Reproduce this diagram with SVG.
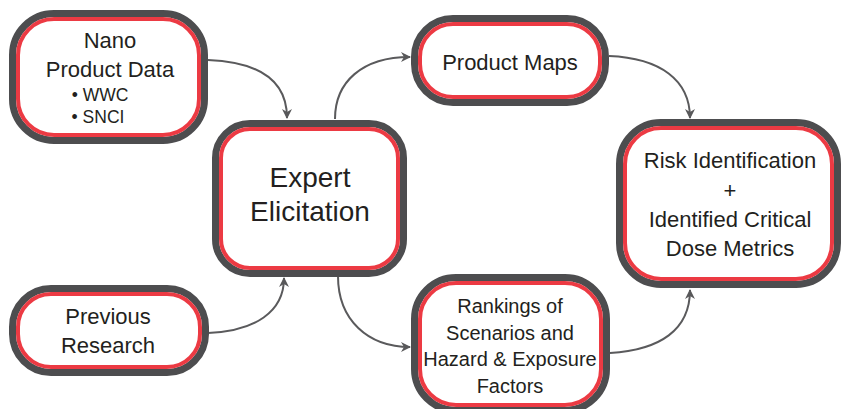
<svg xmlns="http://www.w3.org/2000/svg" width="843" height="409" viewBox="0 0 843 409">
<defs>
<marker id="arr" viewBox="0 0 10 10" refX="9" refY="5" markerWidth="10" markerHeight="10" markerUnits="userSpaceOnUse" orient="auto">
<path d="M0,0 L10,5 L0,10 L3,5 z" fill="#58585a"/>
</marker>
</defs>
<style>
.outer{fill:#fff;stroke:#4d4d4f;stroke-width:7}
.inner{fill:none;stroke:#ec3a43;stroke-width:4}
.t{font-family:"Liberation Sans",Arial,sans-serif;fill:#231f20;text-anchor:middle}
.conn path{fill:none;stroke:#5a5a5c;stroke-width:2;marker-end:url(#arr)}
</style>
<rect width="843" height="409" fill="#fff"/>
<g id="connectors" class="conn">
<path d="M208,60 C258,62 287,80 287,118"/>
<path d="M335,119 C335,82 362,57 410,57"/>
<path d="M609,56 C660,58 690,80 690,118"/>
<path d="M208,333 C255,331 284,312 284,278"/>
<path d="M338,276 C338,320 368,347 410,347"/>
<path d="M610,353 C660,350 690,330 690,290"/>
</g>
<g id="node-nano">
<rect class="outer" x="12.5" y="13.5" width="192" height="127" rx="41.5"/>
<rect class="inner" x="18" y="19" width="181" height="116" rx="36"/>
<text class="t" x="110" y="48" font-size="22">Nano</text>
<text class="t" x="110" y="77" font-size="22">Product Data</text>
<text class="t" x="100" y="101" font-size="17.5">• WWC</text>
<text class="t" x="98" y="123" font-size="17.5">• SNCI</text>
</g>
<g id="node-expert">
<rect class="outer" x="215.5" y="123.5" width="188" height="150" rx="34.5"/>
<rect class="inner" x="221" y="129" width="177" height="139" rx="29"/>
<text class="t" x="310" y="187" font-size="28">Expert</text>
<text class="t" x="310" y="221" font-size="28">Elicitation</text>
</g>
<g id="node-maps">
<rect class="outer" x="414.5" y="18.5" width="191" height="84" rx="38.5"/>
<rect class="inner" x="420" y="24" width="180" height="73" rx="33"/>
<text class="t" x="510" y="70" font-size="22">Product Maps</text>
</g>
<g id="node-risk">
<rect class="outer" x="619.5" y="122.5" width="218" height="162" rx="41.5"/>
<rect class="inner" x="625" y="128" width="207" height="151" rx="36"/>
<text class="t" x="730" y="168" font-size="22">Risk Identification</text>
<text class="t" x="730" y="198" font-size="22">+</text>
<text class="t" x="730" y="227" font-size="22">Identified Critical</text>
<text class="t" x="730" y="256" font-size="22">Dose Metrics</text>
</g>
<g id="node-previous">
<rect class="outer" x="12.5" y="288.5" width="193" height="84" rx="38.5"/>
<rect class="inner" x="18" y="294" width="182" height="73" rx="33"/>
<text class="t" x="108" y="324" font-size="22">Previous</text>
<text class="t" x="108" y="353" font-size="22">Research</text>
</g>
<g id="node-rankings">
<rect class="outer" x="414.5" y="277.5" width="192" height="133" rx="41.5"/>
<rect class="inner" x="420" y="283" width="181" height="122" rx="36"/>
<text class="t" x="510" y="313" font-size="20">Rankings of</text>
<text class="t" x="510" y="340" font-size="20">Scenarios and</text>
<text class="t" x="510" y="366" font-size="20">Hazard &amp; Exposure</text>
<text class="t" x="510" y="393" font-size="20">Factors</text>
</g>
</svg>
